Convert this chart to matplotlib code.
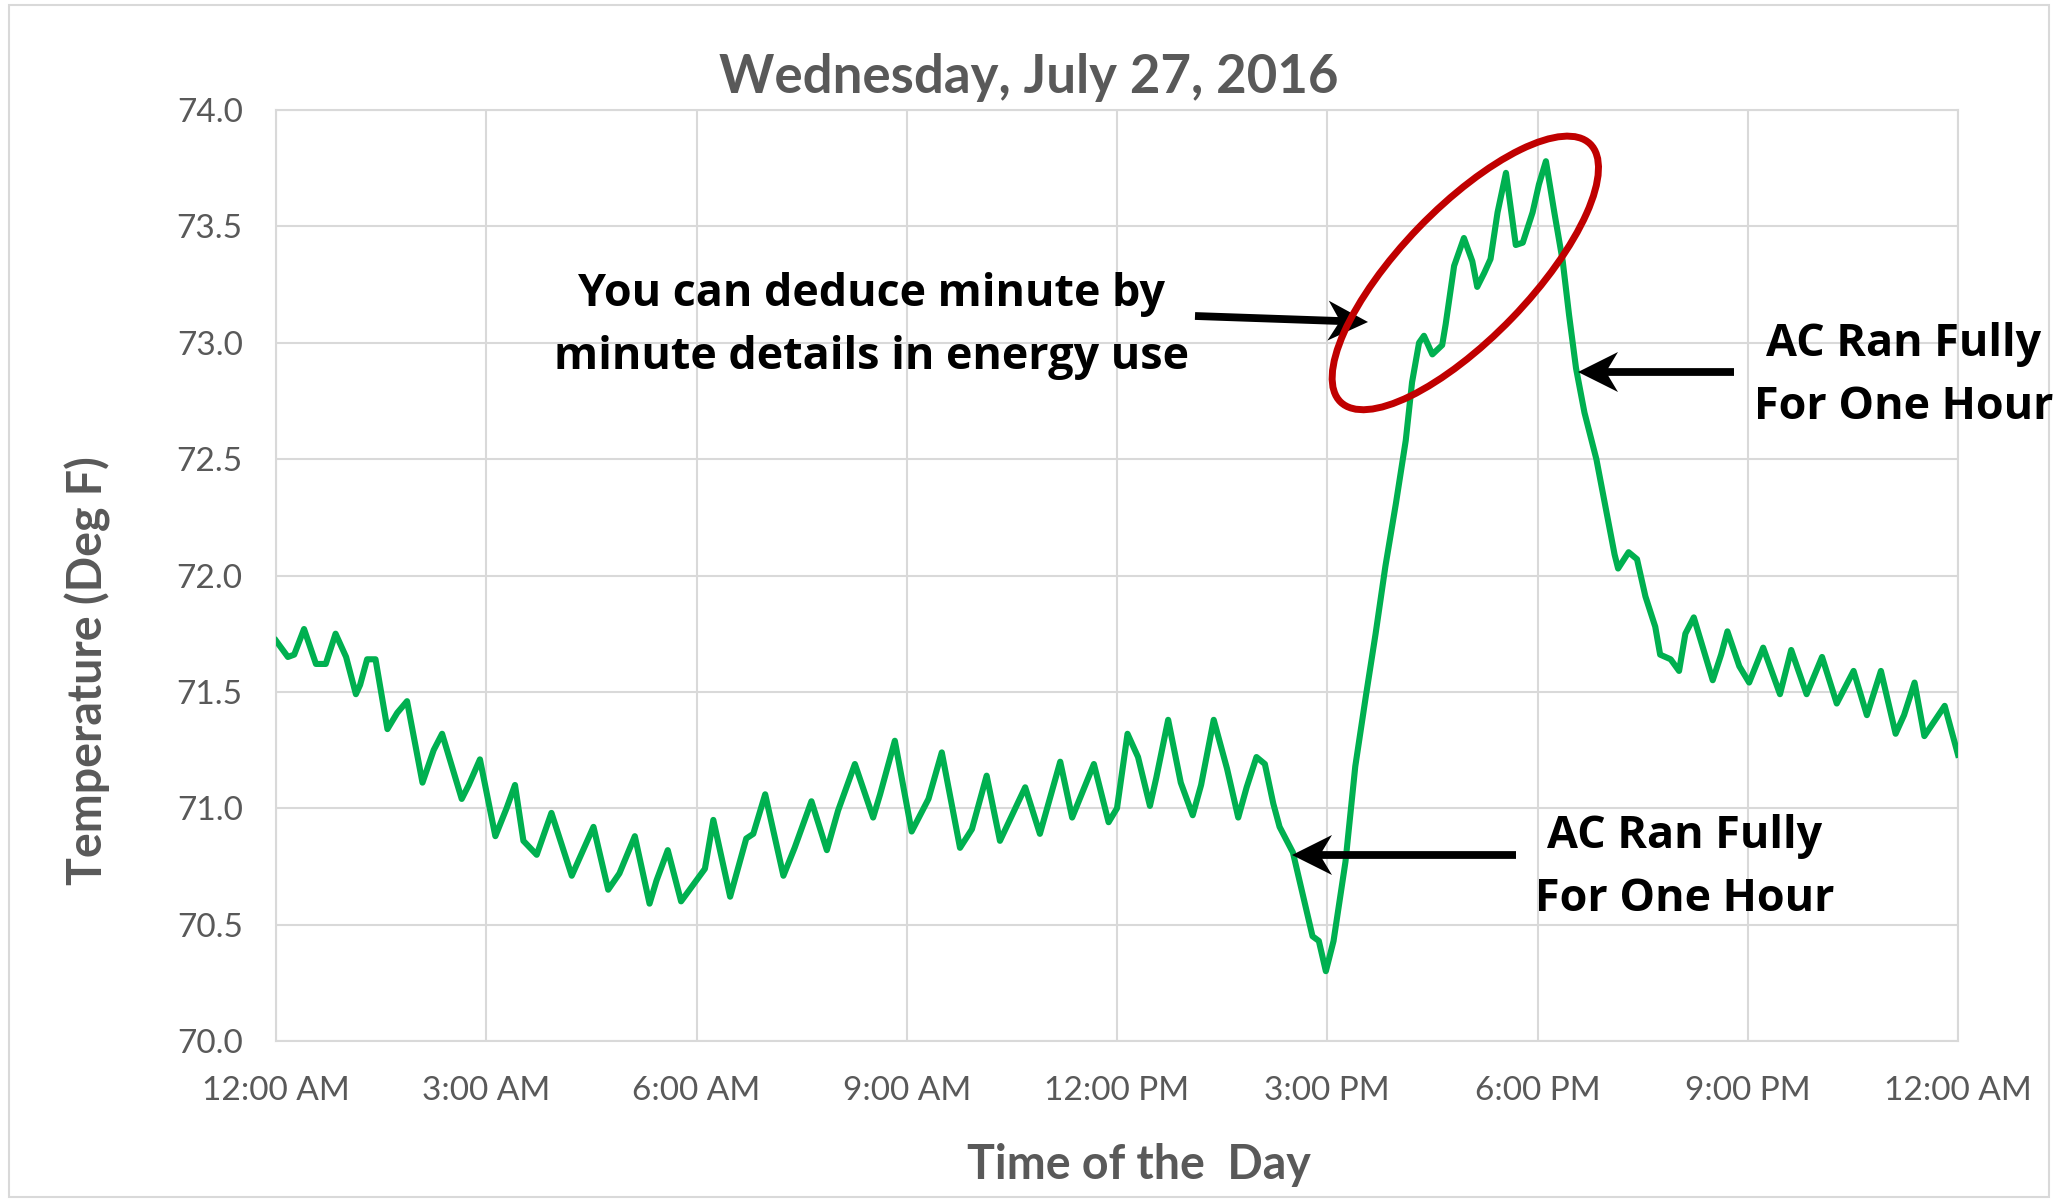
import math
import matplotlib
matplotlib.use("Agg")
import matplotlib.pyplot as plt
from matplotlib.patches import Ellipse, Polygon, Rectangle
from matplotlib.lines import Line2D
from matplotlib.transforms import IdentityTransform

# Indoor temperature log (hour of day, deg F)
hours = [
    0.00, 0.17, 0.26, 0.40, 0.57, 0.71, 0.85, 1.00, 1.14, 1.20, 1.30, 1.42,
    1.59, 1.73, 1.87, 2.09, 2.25, 2.37, 2.65, 2.75, 2.91, 3.13, 3.29, 3.41,
    3.53, 3.72, 3.93, 4.22, 4.53, 4.74, 4.90, 5.12, 5.33, 5.43, 5.59, 5.78,
    5.95, 6.12, 6.24, 6.48, 6.71, 6.81, 6.98, 7.24, 7.40, 7.64, 7.86, 8.02,
    8.26, 8.52, 8.62, 8.83, 9.07, 9.31, 9.50, 9.76, 9.93, 10.14, 10.33, 10.69,
    10.90, 11.19, 11.36, 11.67, 11.88, 12.00, 12.15, 12.30, 12.47, 12.56, 12.73, 12.91,
    13.08, 13.20, 13.38, 13.57, 13.73, 13.85, 13.99, 14.11, 14.23, 14.32, 14.51, 14.79,
    14.88, 14.98, 15.09, 15.26, 15.40, 15.55, 15.69, 15.83, 15.98, 16.12, 16.21, 16.31,
    16.38, 16.50, 16.64, 16.69, 16.81, 16.95, 17.07, 17.14, 17.24, 17.33, 17.43, 17.55,
    17.69, 17.79, 17.93, 18.02, 18.12, 18.24, 18.36, 18.45, 18.55, 18.67, 18.84, 18.96,
    19.10, 19.15, 19.30, 19.42, 19.54, 19.68, 19.75, 19.90, 20.02, 20.11, 20.23, 20.35,
    20.50, 20.62, 20.71, 20.88, 21.02, 21.22, 21.46, 21.62, 21.84, 22.06, 22.27, 22.51,
    22.70, 22.90, 23.11, 23.23, 23.38, 23.52, 23.81, 24.00,
]
temps = [
    71.72, 71.65, 71.66, 71.77, 71.62, 71.62, 71.75, 71.65, 71.49, 71.53, 71.64, 71.64,
    71.34, 71.41, 71.46, 71.11, 71.25, 71.32, 71.04, 71.10, 71.21, 70.88, 71.00, 71.10,
    70.86, 70.80, 70.98, 70.71, 70.92, 70.65, 70.72, 70.88, 70.59, 70.69, 70.82, 70.60,
    70.67, 70.74, 70.95, 70.62, 70.87, 70.89, 71.06, 70.71, 70.83, 71.03, 70.82, 70.99,
    71.19, 70.96, 71.06, 71.29, 70.90, 71.04, 71.24, 70.83, 70.91, 71.14, 70.86, 71.09,
    70.89, 71.20, 70.96, 71.19, 70.94, 71.00, 71.32, 71.22, 71.01, 71.13, 71.38, 71.11,
    70.97, 71.10, 71.38, 71.17, 70.96, 71.09, 71.22, 71.19, 71.02, 70.92, 70.81, 70.45,
    70.43, 70.30, 70.43, 70.77, 71.18, 71.48, 71.75, 72.04, 72.31, 72.58, 72.83, 73.00,
    73.03, 72.95, 72.99, 73.08, 73.33, 73.45, 73.35, 73.24, 73.30, 73.36, 73.56, 73.73,
    73.42, 73.43, 73.56, 73.68, 73.78, 73.56, 73.35, 73.12, 72.89, 72.70, 72.50, 72.31,
    72.09, 72.03, 72.10, 72.07, 71.91, 71.78, 71.66, 71.64, 71.59, 71.75, 71.82, 71.70,
    71.55, 71.66, 71.76, 71.61, 71.54, 71.69, 71.49, 71.68, 71.49, 71.65, 71.45, 71.59,
    71.40, 71.59, 71.32, 71.40, 71.54, 71.31, 71.44, 71.23,
]

tick_hours = [0, 3, 6, 9, 12, 15, 18, 21, 24]
tick_labels = ["12:00 AM", "3:00 AM", "6:00 AM", "9:00 AM", "12:00 PM",
               "3:00 PM", "6:00 PM", "9:00 PM", "12:00 AM"]
temp_ticks = [70.0, 70.5, 71.0, 71.5, 72.0, 72.5, 73.0, 73.5, 74.0]

title = "Wednesday, July 27, 2016"
note_detail = "You can deduce minute by\nminute details in energy use"
note_ac = "AC Ran Fully\nFor One Hour"

GRAY_TXT = "#595959"
GRID = "#d9d9d9"
GREEN = "#00b050"
RED = "#c00000"

W, H = 2063, 1199
fig = plt.figure(figsize=(W / 100, H / 100), dpi=100)
fig.patch.set_facecolor("white")

# outer chart frame
fig.patches.append(Rectangle((9 / W, 2 / H), (2049 - 9) / W, (1194 - 2) / H,
                             transform=fig.transFigure, fill=False,
                             edgecolor=GRID, lw=1.5))

ax_l, ax_r, ax_t, ax_b = 276, 1958, 110, 1041
ax = fig.add_axes([ax_l / W, 1 - ax_b / H, (ax_r - ax_l) / W, (ax_b - ax_t) / H])

ax.plot(hours, temps, color=GREEN, lw=4.4, solid_joinstyle="round", zorder=3)

ax.set_xlim(0, 24)
ax.set_ylim(70, 74)
ax.set_xticks(tick_hours)
ax.set_xticklabels(tick_labels)
ax.set_yticks(temp_ticks)
ax.set_yticklabels([f"{t:.1f}" for t in temp_ticks])
ax.grid(True, color=GRID, lw=1.5, zorder=0)
for s in ax.spines.values():
    s.set_color(GRID)
    s.set_linewidth(1.5)
ax.tick_params(length=0, labelsize=24, labelcolor=GRAY_TXT)
ax.tick_params(axis="x", pad=25)
ax.tick_params(axis="y", pad=24)
for lab in ax.get_xticklabels() + ax.get_yticklabels():
    lab.set_family("Lato")

ax.set_title(title, fontsize=38, fontweight="bold", color=GRAY_TXT,
             family="Lato", pad=0, x=(1029 - ax_l) / (ax_r - ax_l),
             y=(ax_b - 77) / (ax_b - ax_t), va="center")

ax.set_xlabel("Time of the  Day", fontsize=33.5, fontweight="bold",
              color=GRAY_TXT, family="Lato")
ax.xaxis.set_label_coords((1139 - ax_l) / (ax_r - ax_l), (ax_b - 1165) / (ax_b - ax_t))
ax.xaxis.label.set_va("center")
ax.set_ylabel("Temperature (Deg F)", fontsize=33.5, fontweight="bold",
              color=GRAY_TXT, family="Lato")
ax.yaxis.set_label_coords((88 - ax_l) / (ax_r - ax_l), (ax_b - 671) / (ax_b - ax_t))
ax.yaxis.label.set_va("center")


def px(x, y):
    """Image pixel (top-left origin) to display coordinates."""
    return (x, H - y)


def arrow(tail, tip, head_len=40, half_w=20, notch=12, lw=5.6):
    """Shaft plus a notched (stealth) head, in image pixels."""
    (x0, y0), (x1, y1) = px(*tail), px(*tip)
    d = math.hypot(x1 - x0, y1 - y0)
    ux, uy = (x1 - x0) / d, (y1 - y0) / d
    nx, ny = -uy, ux
    bx, by = x1 - ux * head_len, y1 - uy * head_len
    mx, my = x1 - ux * (head_len - notch), y1 - uy * (head_len - notch)
    fig.lines.append(Line2D([x0, mx], [y0, my], transform=IdentityTransform(),
                            color="black", lw=lw, solid_capstyle="butt", zorder=5))
    fig.patches.append(Polygon([(x1, y1), (bx + nx * half_w, by + ny * half_w),
                                (mx, my), (bx - nx * half_w, by - ny * half_w)],
                               closed=True, transform=IdentityTransform(),
                               facecolor="black", edgecolor="none", zorder=5))


note_kw = dict(fontsize=32.3, fontweight="bold", color="black", family="Open Sans",
               ha="center", va="center", linespacing=1.55)
fig.text(872 / W, 1 - 326 / H, note_detail, **note_kw)
fig.text(1904 / W, 1 - 376 / H, note_ac, **note_kw)
fig.text(1685 / W, 1 - 868 / H, note_ac, **note_kw)

arrow((1195, 316), (1368, 322))
arrow((1734, 372), (1578, 372))
arrow((1516, 855), (1292, 855))

# highlight around the afternoon peak
fig.canvas.draw()
cx, cy = ax.transData.transform((16.97, 73.30))
fig.patches.append(Ellipse((cx, cy), 359, 130, angle=46, transform=IdentityTransform(),
                           fill=False, edgecolor=RED, lw=5, zorder=6))

fig.savefig("out.png", dpi=100, facecolor="white")
